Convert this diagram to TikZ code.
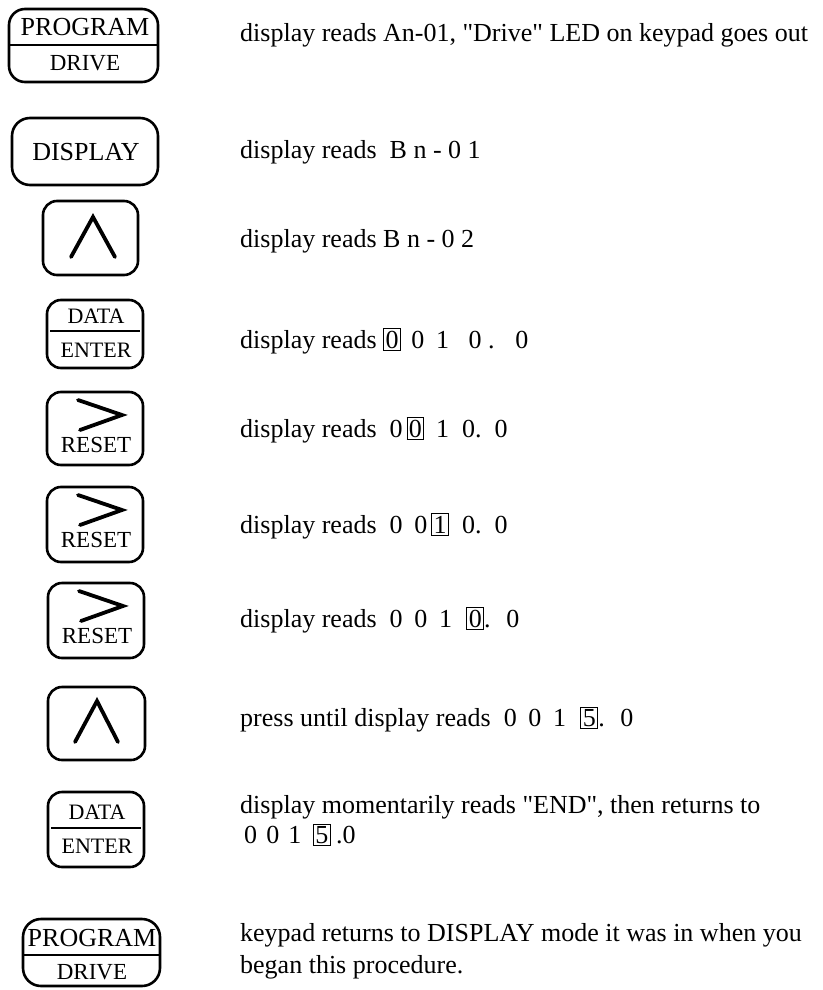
\documentclass[tikz,border=0pt]{standalone}
\usepackage{fontspec}
\setmainfont{Liberation Serif}
\newcommand\bx[1]{{\setlength\fboxsep{1.5pt}\setlength\fboxrule{0.9pt}\fbox{#1}}}
\newcommand\gp[1]{\hspace{#1em}}
\begin{document}
\begin{tikzpicture}[x=1pt,y=-1pt,
  key/.style={draw, line width=2.6pt, rounded corners=14pt, inner sep=0pt, outer sep=0pt},
  lab/.style={inner sep=0pt, font=\fontsize{#1}{#1}\selectfont},
  lab/.default=23,
  divline/.style={line width=2pt},
  glyph/.style={line width=3.8pt, line cap=round, line join=miter},
  txt/.style={anchor=base west, inner sep=0pt, font=\fontsize{26}{30}\selectfont}]
\useasboundingbox (0,0) rectangle (822,990);

% keys
\node[key, rounded corners=16pt, minimum width=149pt, minimum height=73pt] (k1) at (83.5,45.5) {};
\node[key, rounded corners=18pt, minimum width=146pt, minimum height=67pt] (k2) at (85,151.5) {};
\node[key, minimum width=95pt, minimum height=74pt] (k3) at (90.5,238) {};
\node[key, minimum width=96pt, minimum height=68pt] (k4) at (95,334) {};
\node[key, minimum width=96pt, minimum height=73pt] (k5) at (95,428.5) {};
\node[key, minimum width=96pt, minimum height=75pt] (k6) at (95,524.5) {};
\node[key, minimum width=96pt, minimum height=75pt] (k7) at (96,620.5) {};
\node[key, minimum width=97pt, minimum height=73pt] (k8) at (96.5,723.5) {};
\node[key, minimum width=96pt, minimum height=75pt] (k9) at (96,829.5) {};
\node[key, rounded corners=18pt, minimum width=137pt, minimum height=67pt] (k10) at (91.5,952.5) {};

% key 1
\node[lab=26] (k1a) at (85,27) {PROGRAM};
\node[lab=23] (k1b) at (85,63) {DRIVE};
\coordinate (d1) at (0,45);
\draw[divline] (k1.west |- d1) -- (k1.east |- d1);
% key 2
\node[lab=26] (k2a) at (86,152) {DISPLAY};
% key 3
\draw[glyph] (71,257) -- (93,217) -- (115,257);
% key 4
\node[lab=22] (k4a) at (96,316) {DATA};
\node[lab=22] (k4b) at (96,350) {ENTER};
\coordinate (d4) at (0,331);
\draw[divline] ([xshift=3pt]k4.west |- d4) -- ([xshift=-3pt]k4.east |- d4);
% keys 5-7
\draw[glyph] (78,400) -- (122,415) -- (80,430);
\node[lab=23] (k5a) at (96,445) {RESET};
\draw[glyph] (78,495) -- (122,510) -- (80,525);
\node[lab=23] (k6a) at (96,540) {RESET};
\draw[glyph] (79,591) -- (123,606) -- (81,621);
\node[lab=23] (k7a) at (97,636) {RESET};
% key 8
\draw[glyph] (75,742) -- (97,701) -- (118,742);
% key 9
\node[lab=22] (k9a) at (97,812) {DATA};
\node[lab=22] (k9b) at (97,846) {ENTER};
\coordinate (d9) at (0,828);
\draw[divline] ([xshift=3pt]k9.west |- d9) -- ([xshift=-3pt]k9.east |- d9);
% key 10
\node[lab=26] (k10a) at (92,938) {PROGRAM};
\node[lab=23] (k10b) at (92,972) {DRIVE};
\coordinate (d10) at (0,955);
\draw[divline] (k10.west |- d10) -- (k10.east |- d10);

% texts
\node[txt] (t1) at (240,42) {display reads An-01, \textquotedbl Drive\textquotedbl\ LED on keypad goes out};
\node[txt] (t2) at (240,158) {display reads \ B n - 0 1};
\node[txt] (t3) at (240,247) {display reads B n - 0 2};
\node[txt] (t4) at (240,348) {display reads \bx{0}\gp{.4}0\gp{.45}1\gp{.75}0\gp{.25}.\gp{.8}0};
\node[txt] (t5) at (240,437) {display reads \ 0\gp{.15}\bx{0}\gp{.45}1\gp{.5}0.\gp{.5}0};
\node[txt] (t6) at (240,533) {display reads \ 0\gp{.45}0\gp{.15}\bx{1}\gp{.5}0.\gp{.5}0};
\node[txt] (t7) at (240,627) {display reads \ 0\gp{.45}0\gp{.45}1\gp{.55}\bx{0}.\gp{.6}0};
\node[txt] (t8) at (240,726) {press until display reads \ 0\gp{.45}0\gp{.45}1\gp{.55}\bx{5}.\gp{.6}0};
\node[txt] (t9a) at (240,813) {display momentarily reads \textquotedbl END\textquotedbl, then returns to};
\node[txt] (t9b) at (244,843) {0\gp{.35}0\gp{.35}1\gp{.45}\bx{5}\gp{.2}.0};
\node[txt] (t10a) at (240,941) {keypad returns to DISPLAY mode it was in when you};
\node[txt] (t10b) at (240,973) {began this procedure.};
\end{tikzpicture}
\end{document}
